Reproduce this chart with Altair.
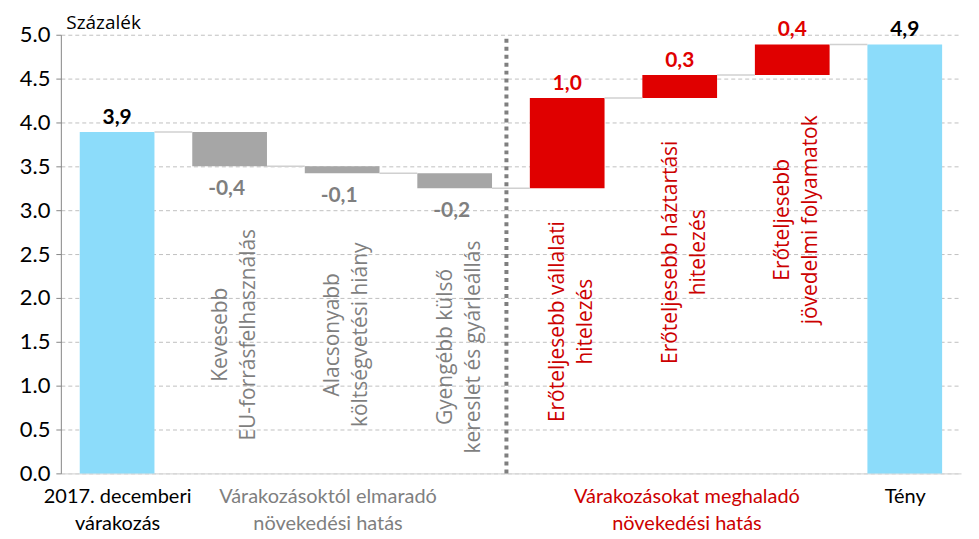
import altair as alt
import pandas as pd

# ---------------- data ----------------
start_value = 3.89
start_label = "3,9"
deltas = [-0.39, -0.08, -0.17, 1.03, 0.26, 0.35]
delta_labels = ["-0,4", "-0,1", "-0,2", "1,0", "0,3", "0,4"]
final_value = 4.89
final_label = "4,9"

factor_names = [
    "Kevesebb\nEU-forrásfelhasználás",
    "Alacsonyabb\nköltségvetési hiány",
    "Gyengébb külső\nkereslet és gyárleállás",
    "Erőteljesebb vállalati\nhitelezés",
    "Erőteljesebb háztartási\nhitelezés",
    "Erőteljesebb\njövedelmi folyamatok",
]
# vertical centre of each rotated factor caption (percent units)
factor_label_center = [1.58, 1.58, 1.44, 1.73, 2.52, 2.89]

bottom_label_pos = [0.5, 2.37, 5.56, 7.5]
bottom_labels = [
    ["2017. decemberi", "várakozás"],
    ["Várakozásoktól elmaradó", "növekedési hatás"],
    ["Várakozásokat meghaladó", "növekedési hatás"],
    ["Tény"],
]
divider_pos = [3.96]
y_ticks = [0.0, 0.5, 1.0, 1.5, 2.0, 2.5, 3.0, 3.5, 4.0, 4.5, 5.0]

# ---------------- styles ----------------
BLUE = "#8cdcfa"
GRAY = "#a6a6a6"
RED = "#e00000"
TXT_GRAY = "#7f7f7f"
TXT_RED = "#cc0000"
FONT = "Lato"
FONT2 = "Open Sans"

# ---------------- build tables ----------------
bars = []
connectors = []
level = start_value
bars.append(dict(i=0, lo=0.0, hi=start_value, fill=BLUE, label=start_label,
                 kind="total", lcolor="black"))
connectors.append(dict(i=0, y=level))
for k, d in enumerate(deltas):
    new = level + d
    bars.append(dict(i=k + 1, lo=min(level, new), hi=max(level, new),
                     fill=GRAY if d < 0 else RED, label=delta_labels[k],
                     kind="neg" if d < 0 else "pos",
                     lcolor=TXT_GRAY if d < 0 else RED,
                     name=factor_names[k], ny=factor_label_center[k],
                     ncolor=TXT_GRAY if d < 0 else TXT_RED))
    level = new
    connectors.append(dict(i=k + 1, y=level))
bars.append(dict(i=len(deltas) + 1, lo=0.0, hi=final_value, fill=BLUE,
                 label=final_label, kind="total", lcolor="black"))

bars_df = pd.DataFrame(bars)
conn_df = pd.DataFrame(connectors)
names_df = bars_df[bars_df["kind"] != "total"].copy()
div_df = pd.DataFrame({"x": divider_pos})

# ---------------- axes ----------------
def label_expr():
    parts = []
    for p, lab in zip(bottom_label_pos, bottom_labels):
        arr = "[" + ",".join("'" + s + "'" for s in lab) + "]"
        parts.append((p, arr))
    expr = parts[-1][1]
    for p, arr in reversed(parts[:-1]):
        expr = f"(abs(datum.value - {p}) < 0.01) ? {arr} : {expr}"
    return expr

x_axis = alt.Axis(
    values=bottom_label_pos, labelExpr=label_expr(), grid=False, ticks=False,
    domainColor="#d9d9d9", domainWidth=1.5, labelFont=FONT, labelFontSize=20,
    labelColor={"condition": [
        {"test": f"datum.value > 1 && datum.value < {divider_pos[0]}", "value": TXT_GRAY},
        {"test": f"datum.value > {divider_pos[0]} && datum.value < 7", "value": TXT_RED}],
        "value": "black"},
    labelPadding=13, labelLineHeight=27, labelOverlap=False, labelFlush=False,
    labelBound=False, labelLimit=0, title=None,
)
y_axis = alt.Axis(
    values=y_ticks, format=".1f", grid=True, gridDash=[4, 3], gridColor="#c0c0c0",
    gridWidth=1, domainColor="#868686", tickColor="#868686", tickSize=5,
    labelFont=FONT, labelFontSize=22, labelColor="black", labelPadding=6,
    title="Százalék", titleAngle=0, titleAlign="left", titleBaseline="alphabetic",
    titleX=5, titleY=-6, titleFont=FONT2, titleFontSize=19, titleFontWeight="normal",
    titleColor="black",
)
x_scale = alt.Scale(domain=[0, 8], nice=False, zero=False)
y_scale = alt.Scale(domain=[0, 5], nice=False, zero=False)

base = alt.Chart(bars_df).transform_calculate(
    x0="datum.i + 0.168", x1="datum.i + 0.832", xc="datum.i + 0.5"
)

bar_layer = base.mark_bar().encode(
    x=alt.X("x0:Q", scale=x_scale, axis=x_axis),
    x2="x1:Q",
    y=alt.Y("lo:Q", scale=y_scale, axis=y_axis),
    y2="hi:Q",
    color=alt.Color("fill:N", scale=None),
)

conn_layer = alt.Chart(conn_df).transform_calculate(
    xa="datum.i + 0.832", xb="datum.i + 1.168"
).mark_rule(color="#d0d0d0", strokeWidth=1.5).encode(
    x=alt.X("xa:Q", scale=x_scale, axis=x_axis),
    x2="xb:Q",
    y=alt.Y("y:Q", scale=y_scale, axis=y_axis),
)

up_labels = base.transform_filter("datum.kind != 'neg'").mark_text(
    font=FONT, fontSize=21, fontWeight="bold", baseline="alphabetic", dy=-8
).encode(
    x=alt.X("xc:Q", scale=x_scale, axis=x_axis),
    y=alt.Y("hi:Q", scale=y_scale, axis=y_axis),
    text="label:N",
    color=alt.Color("lcolor:N", scale=None),
)
down_labels = base.transform_filter("datum.kind == 'neg'").mark_text(
    font=FONT, fontSize=21, fontWeight="bold", baseline="alphabetic", dy=29, dx=-3
).encode(
    x=alt.X("xc:Q", scale=x_scale, axis=x_axis),
    y=alt.Y("lo:Q", scale=y_scale, axis=y_axis),
    text="label:N",
    color=alt.Color("lcolor:N", scale=None),
)

name_layer = alt.Chart(names_df).transform_calculate(
    xc="datum.i + 0.5"
).mark_text(
    font=FONT2, fontSize=21, angle=270, align="center", baseline="middle",
    lineBreak="\n", lineHeight=28, dy=-9
).encode(
    x=alt.X("xc:Q", scale=x_scale, axis=x_axis),
    y=alt.Y("ny:Q", scale=y_scale, axis=y_axis),
    text="name:N",
    color=alt.Color("ncolor:N", scale=None),
)

div_layer = alt.Chart(div_df).mark_rule(
    color="#7f7f7f", strokeWidth=4, strokeDash=[4, 4]
).encode(
    x=alt.X("x:Q", scale=x_scale, axis=x_axis),
    y=alt.Y(datum=0, scale=y_scale, axis=y_axis),
    y2=alt.datum(5),
)

chart = alt.layer(
    bar_layer, conn_layer, div_layer, name_layer, up_labels, down_labels
).properties(
    width=903, height=440,
    autosize=alt.AutoSizeParams(type="none"),
    padding={"left": 53, "top": 26, "right": 10, "bottom": 64},
    background="white",
).configure_view(stroke=None)

chart.save("out.html", embed_options={"renderer": "svg", "actions": False})
